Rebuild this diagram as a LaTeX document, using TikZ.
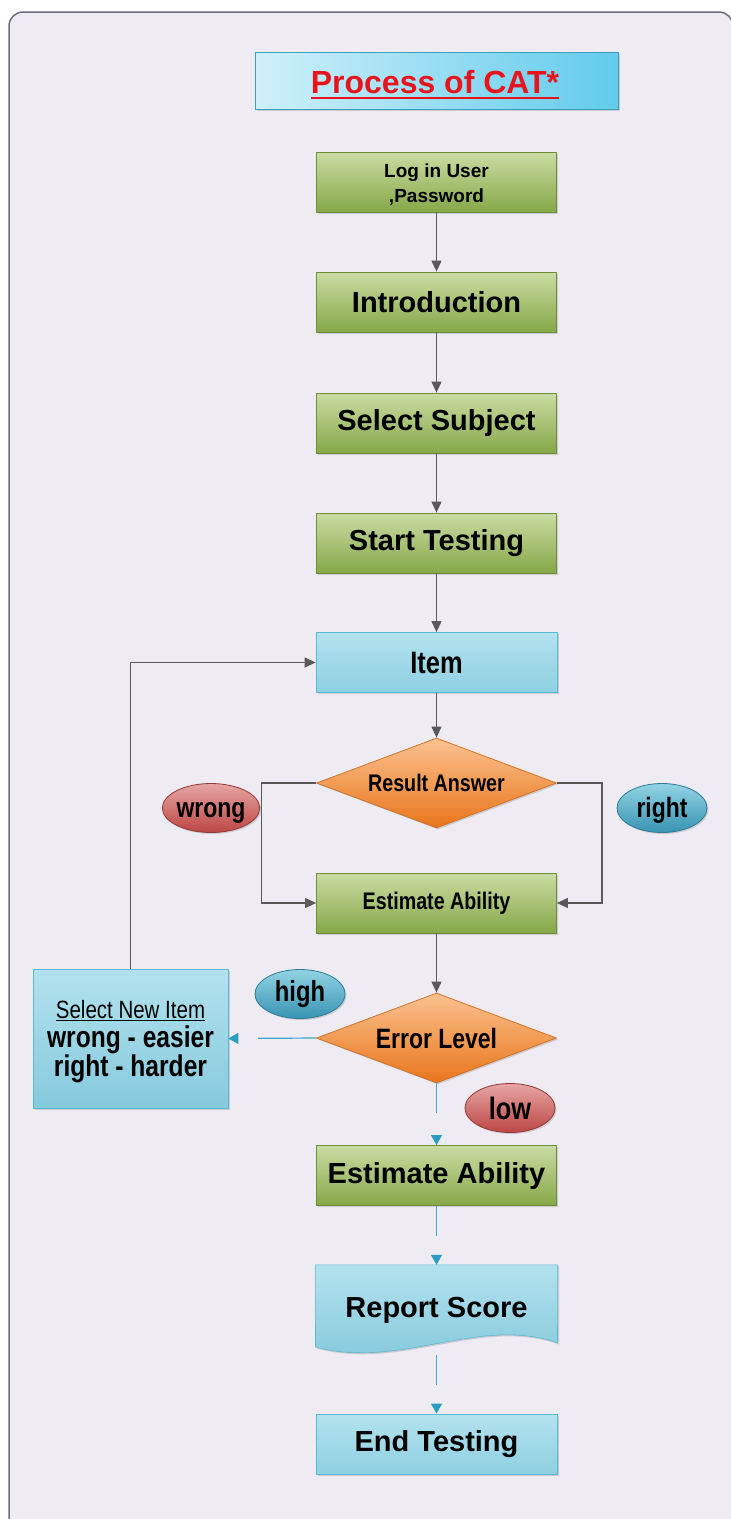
\documentclass[tikz,border=0pt]{standalone}
\usepackage{fontspec}
\setmainfont{Liberation Sans}
\newfontfamily\narrowfont{Liberation Sans}[FakeStretch=0.82]
\usetikzlibrary{arrows.meta,shapes.geometric,shadows}

\definecolor{pagebg}{HTML}{EEEBF3}
\definecolor{frameln}{HTML}{6E6A80}
\definecolor{grnT}{HTML}{CADCA3}
\definecolor{grnB}{HTML}{86A848}
\definecolor{grnD}{HTML}{6F8E39}
\definecolor{bluT}{HTML}{B3E2EE}
\definecolor{bluB}{HTML}{8ED0E2}
\definecolor{bluD}{HTML}{5AB9D3}
\definecolor{orT}{HTML}{FBC290}
\definecolor{orB}{HTML}{E8751A}
\definecolor{orD}{HTML}{D07328}
\definecolor{redT}{HTML}{E6A6A4}
\definecolor{redB}{HTML}{BC4644}
\definecolor{redD}{HTML}{963836}
\definecolor{cyT}{HTML}{93D3E4}
\definecolor{cyB}{HTML}{3894B2}
\definecolor{cyD}{HTML}{2E7C96}
\definecolor{ttlL}{HTML}{CFF0FA}
\definecolor{ttlR}{HTML}{62CBEC}
\definecolor{ttlD}{HTML}{3B9FB7}
\definecolor{ttlRed}{HTML}{E8141C}
\definecolor{grayln}{HTML}{595959}
\definecolor{cyanln}{HTML}{3AA8C8}
\definecolor{cyantip}{HTML}{2A9EC2}

\pgfdeclarelayer{bg}
\pgfsetlayers{bg,main}

\begin{document}
\begin{tikzpicture}[x=1pt,y=-1pt,
  shade/.style={drop shadow={shadow xshift=1.5pt,shadow yshift=-1.5pt,opacity=0.3}},
  greenbox/.style={rectangle,shade,minimum width=240pt,minimum height=60pt,inner sep=0pt,
    draw=grnD,line width=0.8pt,top color=grnT,bottom color=grnB},
  bluebox/.style={rectangle,shade,minimum width=241pt,minimum height=60pt,inner sep=0pt,
    draw=bluD,line width=0.8pt,top color=bluT,bottom color=bluB},
  decision/.style={diamond,shade,aspect=2.667,minimum width=240pt,minimum height=90pt,inner sep=0pt,
    draw=orD,line width=0.8pt,top color=orT,bottom color=orB},
  redoval/.style={ellipse,shade,minimum width=90pt,minimum height=49pt,inner sep=0pt,
    draw=redD,line width=0.8pt,top color=redT,bottom color=redB},
  cyanoval/.style={ellipse,shade,minimum width=90pt,minimum height=49pt,inner sep=0pt,
    draw=cyD,line width=0.8pt,top color=cyT,bottom color=cyB},
  lowtext/.style={text height=20pt,text depth=2pt},
  bigtxt/.style={font=\bfseries\fontsize{29}{34}\selectfont},
  nartxt/.style={font=\narrowfont\bfseries\fontsize{#1}{#1}\selectfont},
  garrow/.style={draw=grayln,line width=1.2pt,-{Triangle[length=11pt,width=10pt]}},
  carrow/.style={draw=cyanln,line width=1.2pt,dash pattern=on 30pt off 40pt,
    -{Triangle[length=10pt,width=11pt,color=cyantip]}}
]
\useasboundingbox (0,0) rectangle (731,1519);
\clip (0,0) rectangle (731,1519);

\begin{pgfonlayer}{bg}
\fill[white] (0,0) rectangle (731,1519);
% rounded page frame
\draw[frameln,line width=1.5pt,fill=pagebg,rounded corners=14pt] (9,12) rectangle (733,1540);
\end{pgfonlayer}

% title
\node[rectangle,shade,minimum width=363pt,minimum height=57pt,inner sep=0pt,
  draw=ttlD,line width=1pt,left color=ttlL,right color=ttlR] (ttl) at (436.5,80.5) {};
\node[inner sep=0pt,text=ttlRed,font=\bfseries\fontsize{32}{36}\selectfont] (ttlt) at (435,82) {Process of CAT*};
\draw[ttlRed,line width=2.6pt] ([yshift=-4.5pt]ttlt.base west) -- ([yshift=-4.5pt]ttlt.base east);

% main column
\node[greenbox] (login) at (436.5,182) {};
\node[align=center,inner sep=0pt,font=\bfseries\fontsize{19}{25}\selectfont] (logintxt) at (436.5,185) {Log in User\\,Password};
\node[greenbox,bigtxt] (intro) at (436.5,302) {Introduction};
\node[greenbox,bigtxt] (subj) at (436.5,423) {Select Subject};
\node[greenbox,bigtxt] (start) at (436.5,543) {Start Testing};
\node[bluebox,nartxt=31] (item) at (436.5,662.5) {Item};
\node[decision,nartxt=24] (res) at (436.5,783) {Result Answer};
\node[redoval,nartxt=28,lowtext] (wrong) at (211,808) {wrong};
\node[cyanoval,nartxt=28,lowtext] (right) at (662,808) {right};
\node[greenbox,nartxt=24] (est1) at (436.5,903) {Estimate Ability};
\node[decision,nartxt=28] (err) at (436.5,1038) {Error Level};
\node[cyanoval,nartxt=29] (high) at (300,994) {high};
\node[redoval,nartxt=31] (low) at (510,1108) {low};
\node[rectangle,shade,minimum width=195pt,minimum height=139pt,inner sep=0pt,
  draw=bluD,line width=0.8pt,top color=bluT,bottom color=bluB!90!cyB] (newitem) at (130.5,1038.5) {};
\node[inner sep=0pt,align=center,font=\narrowfont\bfseries\fontsize{30}{29}\selectfont] (newitemtxt)
  at ([yshift=-3.5pt]newitem.center)
  {{\mdseries\fontsize{25}{29}\selectfont\underline{Select New Item}}\\wrong - easier\\right - harder};
\node[greenbox,bigtxt] (est2) at (436.5,1175.5) {Estimate Ability};
\node[minimum width=242pt,minimum height=90pt,inner sep=0pt,bigtxt] (rep) at (436.5,1310) {Report Score};
\node[bluebox,bigtxt] (fin) at (436.5,1444) {End Testing};

% document-shaped report box
\begin{pgfonlayer}{bg}
\path[shade,draw=bluD,line width=0.6pt,top color=bluT,bottom color=bluB!85!cyB]
  (rep.north west) -- (rep.north east) -- (557.5,1343)
  .. controls (480,1315) and (400,1370) .. (315.5,1347) -- cycle;
\end{pgfonlayer}

% connectors
\draw[garrow] (login.south) -- (intro.north);
\draw[garrow] (intro.south) -- (subj.north);
\draw[garrow] (subj.south) -- (start.north);
\draw[garrow] (start.south) -- (item.north);
\draw[garrow] (item.south) -- (res.north);
\draw[garrow] (res.west) -- ++(-55,0) |- (est1.west);
\draw[garrow] (res.east) -- ++(45,0) |- (est1.east);
\draw[garrow] (est1.south) -- (err.north);
\draw[garrow] (newitem.north) |- (item.west);
\draw[carrow,dash pattern=on 58pt off 40pt] (err.west) -- (newitem.east);
\draw[carrow] (err.south) -- (est2.north);
\draw[carrow] (est2.south) -- (rep.north);
\draw[carrow] (rep.south) -- (fin.north);
\end{tikzpicture}
\end{document}
